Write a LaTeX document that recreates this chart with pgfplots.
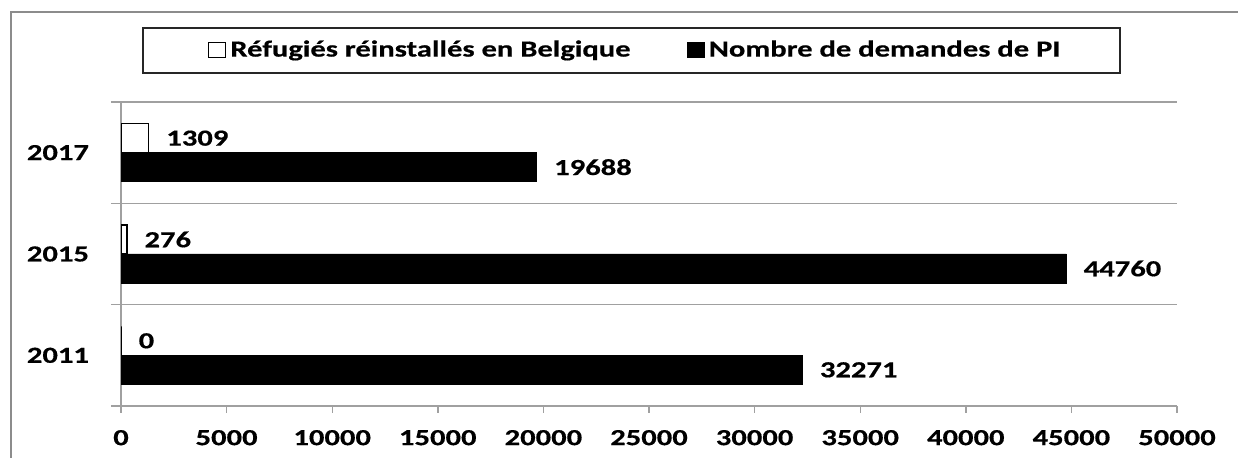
\documentclass[border=0pt]{standalone}
\usepackage{pgfplots}
\pgfplotsset{compat=1.18}
\usepackage{fontspec}
\setmainfont{Carlito}[FakeStretch=1.33, BoldFeatures={FakeBold=0.5}]
\definecolor{axgray}{HTML}{A0A0A0}
\definecolor{framegray}{HTML}{8C8C8C}
\begin{document}
\begin{tikzpicture}[font=\fontsize{11.5}{13}\selectfont\bfseries]
\useasboundingbox (0pt,0pt) rectangle (619pt,229pt);
\draw[framegray, line width=1.3pt] (5.5pt,-10pt) -- (5.5pt,223pt) -- (630pt,223pt);
\draw[black!85, line width=0.7pt] (71.5pt,192.5pt) rectangle (560pt,215pt);
\begin{axis}[
  at={(60.5pt,26pt)}, anchor=south west, scale only axis,
  width=528pt, height=152pt,
  xbar, bar width=14.5pt,
  xmin=0, xmax=50000, ymin=-0.5, ymax=2.5,
  axis lines*=left,
  axis line style={axgray, line width=0.7pt},
  xtick={0,5000,...,50000}, scaled x ticks=false,
  /pgf/number format/fixed, /pgf/number format/1000 sep={},
  /pgf/number format/assume math mode=true,
  ytick={0,1,2}, yticklabels={2011,2015,2017},
  minor ytick={-0.5,0.5,1.5,2.5},
  yminorgrids=true, minor y grid style={axgray, line width=0.7pt},
  tick align=outside, major tick length=3.5pt, minor tick length=5pt,
  major y tick style={draw=none},
  minor y tick style={axgray, line width=0.7pt},
  major x tick style={axgray, line width=0.7pt},
  tick label style={font=\fontsize{11.5}{13}\selectfont\bfseries},
  xticklabel style={yshift=-5pt},
  yticklabel style={xshift=-9pt},
  nodes near coords,
  every node near coord/.append style={font=\fontsize{11.5}{13}\selectfont\bfseries, anchor=west, inner sep=0pt, xshift=8.5pt},
  legend style={at={(0.488,1.171)}, anchor=center, draw=none, fill=none,
    font=\fontsize{11.5}{13}\selectfont\bfseries, legend columns=2,
    /tikz/every even column/.append style={column sep=26pt}},
  legend image code/.code={\draw[#1,line width=0.6pt] (0pt,-3.8pt) rectangle (8.5pt,3.8pt);},
]
\addplot[fill=white, draw=black, line width=0.7pt, bar shift=7.25pt] coordinates {(0,0) (276,1) (1309,2)};
\addplot[fill=black, draw=black, bar shift=-7.25pt] coordinates {(32271,0) (44760,1) (19688,2)};
\legend{Réfugiés réinstallés en Belgique, Nombre de demandes de PI}
\end{axis}
\end{tikzpicture}
\end{document}
